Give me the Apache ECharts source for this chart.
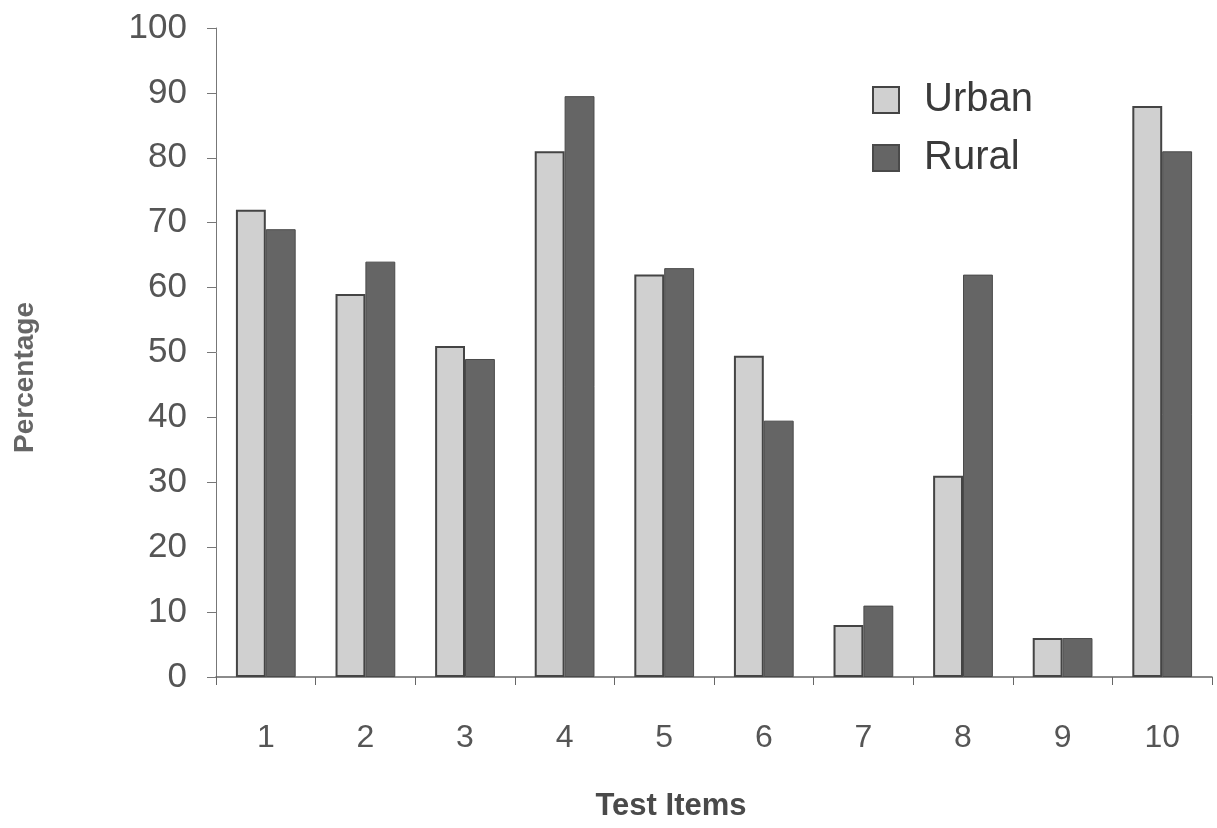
<!DOCTYPE html>
<html><head><meta charset="utf-8">
<script src="https://cdn.jsdelivr.net/npm/echarts@6/dist/echarts.min.js"></script>
<style>html,body{margin:0;padding:0;background:#fff}#c{width:1217px;height:828px}</style>
</head><body><div id="c"></div>
<script>
const categories = ['1','2','3','4','5','6','7','8','9','10'];
const urban = [72, 59, 51, 81, 62, 49.5, 8, 31, 6, 88];
const rural = [69, 64, 49, 89.5, 63, 39.5, 11, 62, 6, 81];
const yTicks = {min: 0, max: 100, interval: 10};

const chart = echarts.init(document.getElementById('c'));
const font = "'Liberation Sans', Arial, sans-serif";
chart.setOption({
  animation: false,
  backgroundColor: '#fff',
  grid: {left: 216, right: 5, top: 28, bottom: 151, containLabel: false, outerBoundsMode: 'none'},
  legend: {
    data: ['Urban', 'Rural'], orient: 'vertical', left: 867, top: 74,
    itemWidth: 26, itemHeight: 26, itemGap: 16,
    textStyle: {fontFamily: font, fontSize: 40, lineHeight: 42, color: '#3a3a3a', padding: [0,0,0,20]},
    icon: 'rect'
  },
  xAxis: {
    type: 'category', data: categories,
    name: 'Test Items', nameLocation: 'middle', nameGap: 114,
    nameTextStyle: {fontFamily: font, fontSize: 31, fontWeight: 'bold', color: '#4a4a4a', padding: [0,86,0,0]},
    axisLine: {lineStyle: {color: '#666', width: 1.5}},
    axisTick: {show: true, alignWithLabel: false, length: 8, lineStyle: {color: '#666'}},
    axisLabel: {fontFamily: font, fontSize: 32, color: '#555', margin: 45}
  },
  yAxis: {
    type: 'value', min: yTicks.min, max: yTicks.max, interval: yTicks.interval,
    name: 'Percentage', nameLocation: 'middle', nameGap: 177, nameRotate: 90,
    nameTextStyle: {fontFamily: font, fontSize: 28, fontWeight: 'bold', color: '#666', padding: [0,50,0,0]},
    axisLine: {show: true, lineStyle: {color: '#777', width: 1}},
    axisTick: {show: true, length: 9, lineStyle: {color: '#777'}},
    splitLine: {show: false},
    axisLabel: {fontFamily: font, fontSize: 35, color: '#555', margin: 29}
  },
  series: [
    {name: 'Urban', type: 'bar', data: urban, barGap: '0%', barCategoryGap: '40%',
     itemStyle: {color: '#d0d0d0', borderColor: '#444', borderWidth: 2}},
    {name: 'Rural', type: 'bar', data: rural,
     itemStyle: {color: '#656565', borderColor: '#4a4a4a', borderWidth: 1}}
  ]
});
</script></body></html>
